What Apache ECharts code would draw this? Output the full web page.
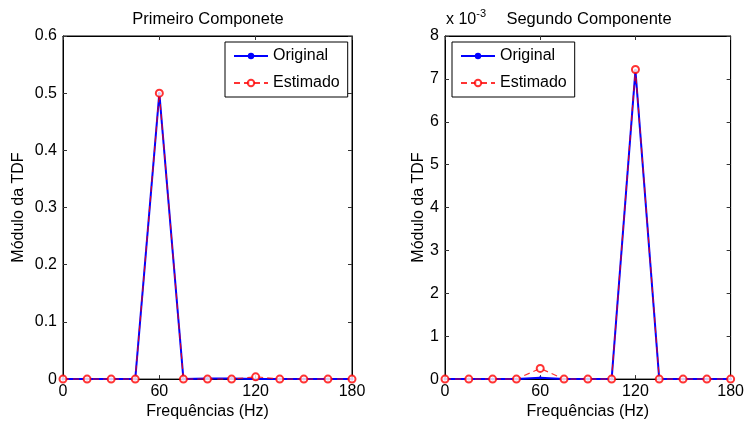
<!DOCTYPE html>
<html>
<head>
<meta charset="utf-8">
<script src="https://cdn.jsdelivr.net/npm/echarts@6/dist/echarts.min.js"></script>
<style>
  html, body { margin: 0; padding: 0; background: #fff; }
  #chart { width: 747px; height: 425px; }
</style>
</head>
<body>
<div id="chart"></div>
<script>
// frequências (Hz)
const freqs = [0, 15, 30, 45, 60, 75, 90, 105, 120, 135, 150, 165, 180]

// primeiro componente
const orig1 = [0, 0, 0, 0, 0.5, 0, 0.001, 0.001, 0, 0, 0, 0, 0]
const est1 = [0, 0, 0, 0, 0.5, 0, 0, 0, 0.004, 0, 0, 0, 0]

// segundo componente
const orig2 = [0, 0, 0, 0, 0.00003, 0, 0, 0, 0.0072, 0, 0, 0, 0]
const est2 = [0, 0, 0, 0, 0.00025, 0, 0, 0, 0.00722, 0, 0, 0, 0]

const titles = ['Primeiro Componete', 'Segundo Componente']

const FONT = 'Liberation Sans, Arial, sans-serif'
const BLUE = '#0000ff'
const RED = '#ff0000'

const pair = (xs, ys) => xs.map((x, i) => [x, ys[i]])

const chart = echarts.init(document.getElementById('chart'))

const grids = [
  { left: 63, top: 36, width: 289, height: 347, show: true, borderColor: '#000', borderWidth: 1 },
  { left: 445, top: 36, width: 288, height: 347, show: true, borderColor: '#000', borderWidth: 1 },
]

// marcas de escala para dentro, como no matlab
const tickStyle = { show: true, inside: true, length: 4, lineStyle: { color: '#333' } }

function xAxes(gi) {
  return [
    {
      type: 'value', gridIndex: gi, min: 0, max: 180, interval: 60,
      name: 'Frequências (Hz)', nameLocation: 'middle', nameGap: 24,
      nameTextStyle: { fontFamily: FONT, fontSize: 16, color: '#000' },
      axisLine: { show: true, onZero: false, lineStyle: { color: '#000' } },
      axisTick: tickStyle,
      axisLabel: { fontFamily: FONT, fontSize: 16, color: '#000', margin: 4 },
      splitLine: { show: false },
    },
    {
      type: 'value', gridIndex: gi, min: 0, max: 180, interval: 60, position: 'top',
      axisLine: { show: true, onZero: false, lineStyle: { color: '#000' } },
      axisTick: tickStyle, axisLabel: { show: false }, splitLine: { show: false },
    },
  ]
}

function yAxes(gi, max, interval, fmt, gap) {
  return [
    {
      type: 'value', gridIndex: gi, min: 0, max: max, interval: interval,
      name: 'Módulo da TDF', nameLocation: 'middle', nameGap: gap,
      nameTextStyle: { fontFamily: FONT, fontSize: 16, color: '#000' },
      axisLine: { show: true, onZero: false, lineStyle: { color: '#000' } },
      axisTick: tickStyle,
      axisLabel: { fontFamily: FONT, fontSize: 16, color: '#000', margin: 6, formatter: fmt },
      splitLine: { show: false },
    },
    {
      type: 'value', gridIndex: gi, min: 0, max: max, interval: interval, position: 'right',
      axisLine: { show: true, onZero: false, lineStyle: { color: '#000' } },
      axisTick: tickStyle, axisLabel: { show: false }, splitLine: { show: false },
    },
  ]
}

function series(gi, orig, est) {
  return [
    {
      name: 'Original', type: 'line', xAxisIndex: gi * 2, yAxisIndex: gi * 2,
      data: pair(freqs, orig),
      symbol: 'circle', symbolSize: 3,
      itemStyle: { color: BLUE },
      lineStyle: { color: BLUE, width: 2 },
      animation: false, z: 2,
    },
    {
      name: 'Estimado', type: 'line', xAxisIndex: gi * 2, yAxisIndex: gi * 2,
      data: pair(freqs, est),
      symbol: 'emptyCircle', symbolSize: 7,
      itemStyle: { color: RED, borderWidth: 1, opacity: 0.8 },
      lineStyle: { color: RED, width: 1.2, type: [6, 4], opacity: 0.8 },
      animation: false, z: 3,
    },
  ]
}

function legend(left, top) {
  return {
    data: ['Original', 'Estimado'],
    orient: 'vertical', left: left, top: top,
    itemWidth: 34, itemHeight: 8, itemGap: 11,
    padding: [6, 8, 6, 8],
    backgroundColor: '#fff', borderColor: '#000', borderWidth: 1,
    textStyle: { fontFamily: FONT, fontSize: 16, color: '#000' },
  }
}

chart.setOption({
  animation: false,
  title: [
    { text: titles[0], left: 203, top: 6, textAlign: 'center',
      textStyle: { fontFamily: FONT, fontSize: 16.5, fontWeight: 'normal', color: '#000' } },
    { text: titles[1], left: 584, top: 6, textAlign: 'center',
      textStyle: { fontFamily: FONT, fontSize: 16.5, fontWeight: 'normal', color: '#000' } },
  ],
  grid: grids,
  xAxis: [...xAxes(0), ...xAxes(1)],
  yAxis: [
    ...yAxes(0, 0.6, 0.1, v => (v === 0 ? '0' : v.toFixed(1)), 36),
    ...yAxes(1, 0.008, 0.001, v => String(Math.round(v * 1000)), 18),
  ],
  legend: [legend(225, 42), legend(452, 42)],
  graphic: [
    {
      type: 'text', left: 446, top: 8,
      style: {
        text: '{a|x 10}{b|-3}',
        rich: {
          a: { fontFamily: FONT, fontSize: 16, fill: '#000', verticalAlign: 'bottom' },
          b: { fontFamily: FONT, fontSize: 11, fill: '#000', verticalAlign: 'top', padding: [0, 0, 9, 0] },
        },
      },
    },
  ],
  series: [...series(0, orig1, est1), ...series(1, orig2, est2)],
})
</script>
</body>
</html>
